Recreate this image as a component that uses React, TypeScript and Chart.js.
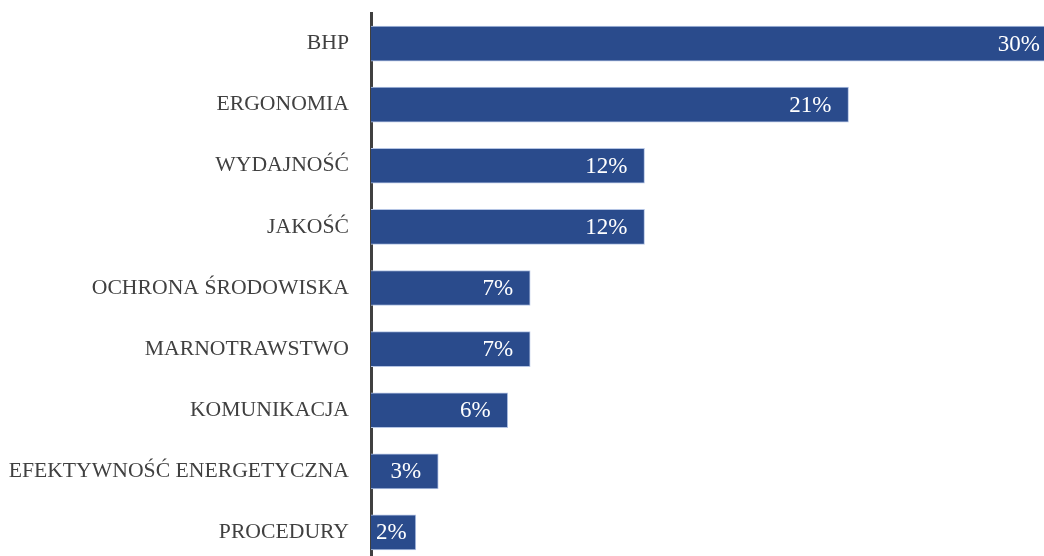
import React, { useEffect, useRef } from "react";
import { Chart, registerables } from "chart.js";

Chart.register(...registerables);

const categories = [
  "BHP",
  "ERGONOMIA",
  "WYDAJNOŚĆ",
  "JAKOŚĆ",
  "OCHRONA ŚRODOWISKA",
  "MARNOTRAWSTWO",
  "KOMUNIKACJA",
  "EFEKTYWNOŚĆ ENERGETYCZNA",
  "PROCEDURY",
];
const values = [30.6, 21.3, 12.2, 12.2, 7.1, 7.1, 6.1, 3.0, 2.0];
const valueLabels = ["30%", "21%", "12%", "12%", "7%", "7%", "6%", "3%", "2%"];

const FONT = "'Liberation Serif', serif";

const labelPlugin = {
  id: "barLabels",
  afterDatasetsDraw(chart: any) {
    const ctx = chart.ctx;
    const meta = chart.getDatasetMeta(0);
    ctx.save();
    ctx.font = `23px ${FONT}`;
    ctx.fillStyle = "#ffffff";
    ctx.textAlign = "right";
    ctx.textBaseline = "middle";
    meta.data.forEach((bar: any, i: number) => {
      const text = valueLabels[i];
      const w = ctx.measureText(text).width;
      let right = bar.x - 17;
      right = Math.max(right, bar.base + w + 5);
      ctx.fillText(text, right, bar.y + 1);
    });
    ctx.restore();
  },
};

export default function App() {
  const ref = useRef<HTMLCanvasElement>(null);
  useEffect(() => {
    document.body.style.margin = "0";
    document.body.style.overflow = "hidden";
    const chart = new Chart(ref.current!, {
      type: "bar",
      data: {
        labels: categories,
        datasets: [
          {
            data: values,
            backgroundColor: "#2a4b8c",
            borderColor: "#b4c4e4",
            borderWidth: 1,
            barThickness: 35,
          },
        ],
      },
      options: {
        indexAxis: "y",
        animation: false,
        responsive: false,
        maintainAspectRatio: false,
        layout: { padding: { top: 13, right: 0, bottom: 0, left: 0 } },
        plugins: { legend: { display: false }, tooltip: { enabled: false } },
        scales: {
          x: { display: false, min: 0, max: 31 },
          y: {
            grid: { display: false },
            border: { display: true, color: "#404040", width: 3 },
            ticks: {
              color: "#404040",
              padding: 14,
              font: { family: FONT, size: 21.7 },
            },
            afterFit: (scale: any) => {
              scale.width = 371;
              scale.paddingTop = 0;
              scale.paddingBottom = 0;
            },
          },
        },
      },
      plugins: [labelPlugin],
    });
    return () => chart.destroy();
  }, []);
  return (
    <div style={{ width: 1044, height: 556, overflow: "hidden" }}>
      <canvas ref={ref} width={1066} height={563} style={{ display: "block" }} />
    </div>
  );
}
